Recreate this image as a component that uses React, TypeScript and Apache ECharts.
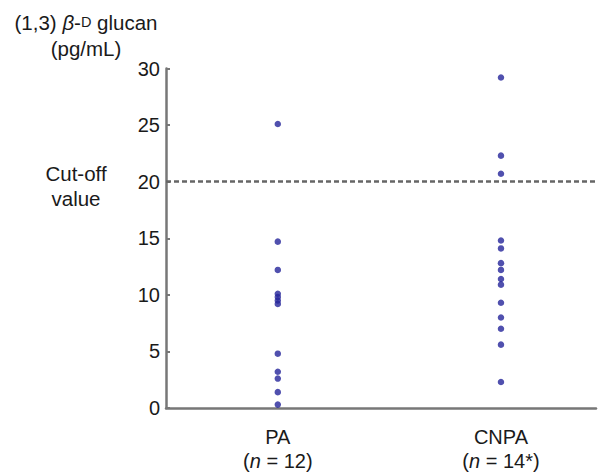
import React, { useEffect, useRef } from "react";
import * as echarts from "echarts";

// ---- data ----
const categories = ["PA", "CNPA"];
const groupCounts = ["12", "14*"];
const paValues = [25.1, 14.7, 12.2, 10.1, 9.8, 9.5, 9.2, 4.8, 3.2, 2.6, 1.4, 0.3];
const cnpaValues = [29.2, 22.3, 20.7, 14.8, 14.1, 12.8, 12.2, 11.4, 10.9, 9.3, 8.0, 7.0, 5.6, 2.3];
const cutOffValue = 20;
const yTicks = [0, 5, 10, 15, 20, 25, 30];

// ---- layout constants ----
const GROUP_POS = [0.26, 0.779];
const FONT = "'Liberation Sans', Arial, Helvetica, sans-serif";
const TEXT = "#1a1a1a";
const AXIS = "#777777";
const DOT = "#24249a";

export default function App() {
  const ref = useRef<HTMLDivElement>(null);
  useEffect(() => {
    if (!ref.current) return;
    const chart = echarts.init(ref.current, null, { renderer: "svg" });
    const groups = [paValues, cnpaValues];
    const option: any = {
      animation: false,
      backgroundColor: "#ffffff",
      textStyle: { fontFamily: FONT },
      grid: { left: 166, top: 68.5, right: 15, bottom: 67 },
      xAxis: {
        type: "value",
        min: 0,
        max: 1,
        splitLine: { show: false },
        axisTick: { show: false },
        axisLine: { show: true, onZero: false, lineStyle: { color: AXIS, width: 2.5 } },
        axisLabel: {
          customValues: GROUP_POS,
          margin: 17,
          color: TEXT,
          fontSize: 20,
          lineHeight: 24,
          fontFamily: FONT,
          formatter: (v: number) => {
            const idx = GROUP_POS.findIndex((p) => Math.abs(p - v) < 1e-6);
            if (idx < 0) return "";
            return `${categories[idx]}\n({i|n} = ${groupCounts[idx]})`;
          },
          rich: {
            i: { fontStyle: "italic", fontSize: 20, color: TEXT, fontFamily: FONT, lineHeight: 24 },
          },
        },
      },
      yAxis: {
        type: "value",
        min: yTicks[0],
        max: yTicks[yTicks.length - 1],
        interval: 5,
        splitLine: { show: false },
        axisLine: { show: true, lineStyle: { color: AXIS, width: 2.5 } },
        axisTick: { show: true, inside: true, length: 4, lineStyle: { color: AXIS, width: 2 } },
        axisLabel: { color: TEXT, fontSize: 20, margin: 6, fontFamily: FONT },
      },
      series: groups.map((vals, gi) => ({
        type: "scatter",
        name: categories[gi],
        symbol: "circle",
        symbolSize: 6.5,
        itemStyle: { color: DOT },
        data: vals.map((v) => [GROUP_POS[gi], v]),
        markLine:
          gi === 0
            ? {
                silent: true,
                symbol: "none",
                label: { show: false },
                lineStyle: { color: "#666666", width: 2.5, type: [5, 3] },
                data: [{ yAxis: cutOffValue }],
              }
            : undefined,
      })),
      graphic: [
        {
          type: "text",
          x: 86,
          y: 22,
          style: {
            text: "(1,3) {i|β}-{sc|D} glucan",
            fill: TEXT,
            font: `20.5px ${FONT}`,
            align: "center",
            verticalAlign: "middle",
            rich: {
              i: { fontStyle: "italic", fontSize: 20.5, fontFamily: FONT, fill: TEXT },
              sc: { fontSize: 14.5, fontFamily: FONT, fill: TEXT },
            },
          },
        },
        {
          type: "text",
          x: 86,
          y: 48,
          style: {
            text: "(pg/mL)",
            fill: TEXT,
            font: `20.5px ${FONT}`,
            align: "center",
            verticalAlign: "middle",
          },
        },
        {
          type: "text",
          x: 76,
          y: 185.5,
          style: {
            text: "Cut-off\nvalue",
            fill: TEXT,
            font: `20.5px ${FONT}`,
            lineHeight: 25,
            align: "center",
            verticalAlign: "middle",
          },
        },
      ],
    };
    chart.setOption(option);
    return () => chart.dispose();
  }, []);
  return (
    <div
      ref={ref}
      style={{ position: "fixed", left: 0, top: 0, width: 611, height: 475, background: "#fff" }}
    />
  );
}
